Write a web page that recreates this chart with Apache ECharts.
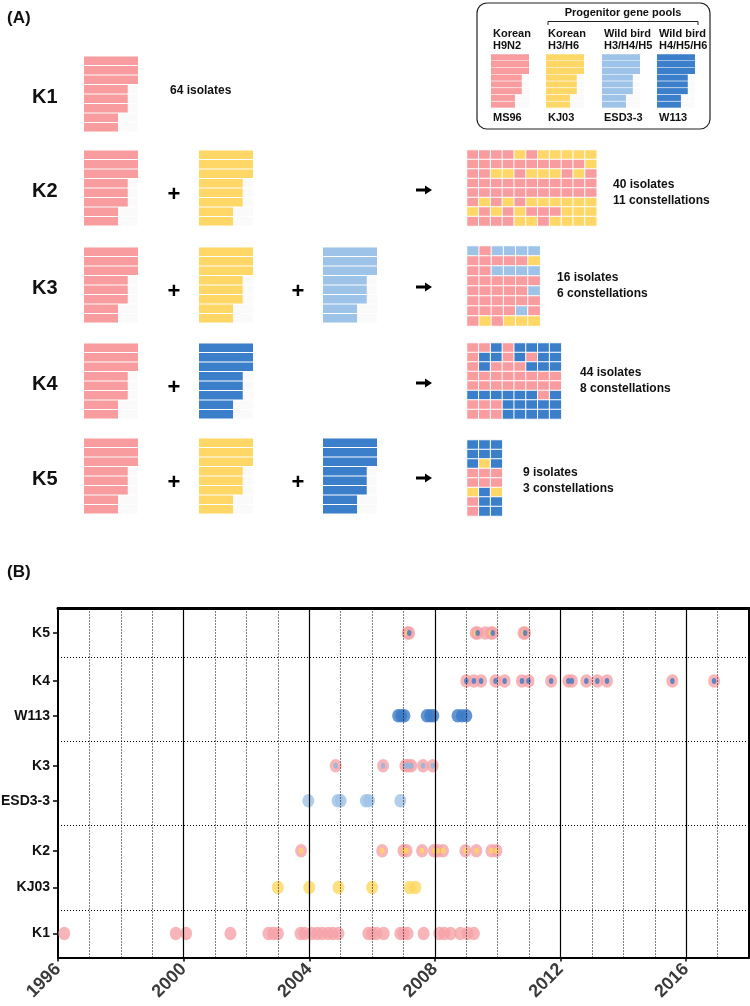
<!DOCTYPE html>
<html><head><meta charset="utf-8">
<script src="https://cdn.jsdelivr.net/npm/echarts@6/dist/echarts.min.js"></script>
<style>html,body{margin:0;padding:0;background:#fff}#c{width:750px;height:1006px}</style>
</head><body><div id="c"></div>
<script>
// ================= DATA =================
// gene segments and relative segment lengths (3 levels as drawn)
const segmentNames = ['PB2','PB1','PA','HA','NP','NA','M','NS'];
const segmentLengths = [100,100,100,81,81,81,63,63];
// progenitor pools (legend)
const poolKeys = ['P','Y','L','D'];
const poolNames = ['MS96','KJ03','ESD3-3','W113'];
const poolHeaders = [['Korean','H9N2'],['Korean','H3/H6'],['Wild bird','H3/H4/H5'],['Wild bird','H4/H5/H6']];
// genotypes
const genotypes = ['K1','K2','K3','K4','K5'];
const genotypePools = [['P'],['P','Y'],['P','Y','L'],['P','D'],['P','Y','D']];
const isolateCounts = [64,40,16,44,9];
const constellationCounts = [null,11,6,8,3];
// constellation grids (rows = segments, cols = constellations)
const k2Grid = ['PPPPYPYYYYY','PPPPPPPPPPY','PPYYPYYYPYP','PPPPPPPPPPP','PPPPPPPPPPP','PYPYPYYYYYY','YPYPYPPPYYY','PPPPYYPYYYY'];
const k3Grid = ['LPLLLL','PPPPPY','PPLLLL','PPPPPP','PPPPPL','PPPPPP','PPPPLP','PYPYYY'];
const k4Grid = ['PPDPDDDD','PDDPDPDD','PDPPPDDD','PPPPPPPP','PPPPPPPP','DDDDDDPD','PPPDDDDD','PPPDDDDD'];
const k5Grid = ['DDD','DDD','DYD','PPP','PPP','YDY','PDD','PDD'];
// panel B: isolation dates (decimal years)
const rowNamesB = ['K1','KJ03','K2','ESD3-3','K3','W113','K4','K5'];
const k1Dates = [1996.2,1999.75,2000.08,2001.49,2002.7,2002.85,2003.0,2003.72,2003.85,2004.07,2004.25,2004.41,2004.6,2004.75,2004.93,2005.88,2006.0,2006.14,2006.37,2006.9,2007.0,2007.13,2007.64,2008.14,2008.3,2008.5,2008.81,2009.04,2009.24];
const kj03Dates = [2003.0,2004.0,2004.93,2006.0,2007.2,2007.38];
const k2Dates = [2003.74,2006.32,2007.0,2007.1,2007.59,2007.97,2008.09,2008.26,2008.97,2009.32,2009.8,2009.96];
const esdDates = [2003.97,2004.9,2005.0,2005.8,2005.9,2006.9];
const k3Dates = [2004.84,2006.35,2007.06,2007.15,2007.25,2007.62,2007.93];
const w113Dates = [2006.83,2006.93,2007.03,2007.74,2007.85,2007.95,2008.72,2008.86,2009.0];
const k4Dates = [2009.0,2009.24,2009.47,2009.93,2010.22,2010.77,2010.98,2011.7,2012.25,2012.36,2012.82,2013.17,2013.48,2015.56,2016.89];
const k5Dates = [2007.13,2007.18,2009.3,2009.36,2009.6,2009.78,2009.84,2010.82,2010.87];
const k5Inner = ['Y','D','Y','D','','Y','D','Y','D'];
const yearLabels = [1996,2000,2004,2008,2012,2016];
const yearGrid = [1997,1998,1999,2001,2002,2003,2005,2006,2007,2009,2010,2011,2013,2014,2015,2017];

// ================= STYLE / LAYOUT =================
const C = {P:'#F99CA0', Y:'#FFD766', L:'#9EC3E8', D:'#3B7FCB'};
const CB = {P:'#F5A2A7', Y:'#FFD75E', L:'#9DC2E6', D:'#3C7BC8'};
const FONT = '"Liberation Sans", Arial, sans-serif';
const rowTop = [56,150,247,343,438];
const stackLeft = [84,199,323];
const stackW = 54, stackH = 76;
const heatLeft = 467, heatTop = [150,246,343,440], heatCell = [11.8,12.2,11.8,11.8], heatRowH = [9.5,10,9.5,9.5];
const countTextPos = [[170,91],[613,185],[557,278],[580,373],[523,473]];
const rowPosB = [24,70,107,157,192,242,277,325];
const dividerPosB = [47,132,217,301];

const grids = [], xAxes = [], yAxes = [], series = [], heatIdx = [], graphics = [];
const noAnim = {animation:false, silent:true};

function addStack(left, top, w, h, key){
  const gi = grids.length;
  grids.push({left, top, width:w, height:h, containLabel:false, outerBoundsMode:'none'});
  xAxes.push({gridIndex:gi, type:'value', min:0, max:100, show:false});
  yAxes.push({gridIndex:gi, type:'category', data:segmentNames, inverse:true, show:false});
  series.push(Object.assign({type:'bar', xAxisIndex:gi, yAxisIndex:gi, data:segmentLengths,
    barCategoryGap:'10%', itemStyle:{color:C[key]},
    showBackground:true, backgroundStyle:{color:'rgba(0,0,0,0.018)'}}, noAnim));
}
function addHeat(left, top, cw, ch, rows){
  const nc = rows[0].length, nr = rows.length, gi = grids.length;
  grids.push({left, top, width:cw*nc, height:ch*nr, containLabel:false, outerBoundsMode:'none'});
  xAxes.push({gridIndex:gi, type:'category', data:[...Array(nc).keys()].map(String), show:false});
  yAxes.push({gridIndex:gi, type:'category', data:segmentNames, inverse:true, show:false});
  const data = [];
  rows.forEach((r,ri)=>[...r].forEach((ch2,ci)=>data.push([ci, ri, poolKeys.indexOf(ch2)])));
  heatIdx.push(series.length);
  series.push(Object.assign({type:'heatmap', xAxisIndex:gi, yAxisIndex:gi, data,
    itemStyle:{borderColor:'#fff', borderWidth:1}}, noAnim));
}
function txt(x, y, text, size, opts){
  graphics.push(Object.assign({type:'text', x, y, silent:true,
    style:{text, fill:'#111', font:'bold '+size+'px '+FONT, align:'left', verticalAlign:'middle'}}, opts||{}));
}
function arrow(cx, cy){
  graphics.push({type:'polygon', silent:true, shape:{points:[[cx-8,cy-1.5],[cx+1,cy-1.5],[cx+1,cy-4.5],[cx+8,cy],[cx+1,cy+4.5],[cx+1,cy+1.5],[cx-8,cy+1.5]]}, style:{fill:'#000'}});
}

// ---- Panel A ----
txt(7, 18, '(A)', 17);
genotypes.forEach((g, i) => {
  const top = rowTop[i];
  txt(32, top + 41, g, 20);
  genotypePools[i].forEach((k, j) => {
    addStack(stackLeft[j], top, stackW, stackH, k);
    if (j > 0) txt(stackLeft[j] - 25, top + 45, '+', 22, {style:{text:'+', fill:'#000', font:'bold 22px '+FONT, align:'center', verticalAlign:'middle'}});
  });
  const [tx, ty] = countTextPos[i];
  txt(tx, ty, isolateCounts[i] + ' isolates', 12);
  if (constellationCounts[i] !== null) {
    txt(tx, ty + 16, constellationCounts[i] + ' constellations', 12);
    arrow(424, top + 40);
  }
});
[k2Grid, k3Grid, k4Grid, k5Grid].forEach((gr, i) => addHeat(heatLeft, heatTop[i], heatCell[i], heatRowH[i], gr));

// legend box
graphics.push({type:'rect', silent:true, shape:{x:477, y:3, width:233, height:126, r:10}, style:{fill:'none', stroke:'#222', lineWidth:1.2}});
graphics.push({type:'polyline', silent:true, shape:{points:[[548,25],[548,21.5],[698,21.5],[698,25]]}, style:{stroke:'#222', lineWidth:1, fill:'none'}});
txt(623, 13, 'Progenitor gene pools', 11, {style:{text:'Progenitor gene pools', fill:'#111', font:'bold 11px '+FONT, align:'center', verticalAlign:'middle'}});
const legLeft = [493,548,604,659];
poolKeys.forEach((k, i) => {
  txt(legLeft[i], 34, poolHeaders[i][0], 11);
  txt(legLeft[i], 46, poolHeaders[i][1], 11);
  addStack(legLeft[i] - 2, 54, 38, 54, k);
  txt(legLeft[i], 118, poolNames[i], 11);
});

// ---- Panel B ----
txt(7, 572, '(B)', 17);
const gB = grids.length;
grids.push({left:58, top:608, right:1, height:349.5, containLabel:false, outerBoundsMode:'none'});
xAxes.push({gridIndex:gB, type:'value', min:1996, max:2018, interval:1,
  axisLine:{show:true, lineStyle:{color:'#000', width:2}},
  axisTick:{show:true, customValues:yearLabels, length:4, lineStyle:{color:'#000', width:1.5}},
  axisLabel:{rotate:45, margin:9, color:'#3a3a3a', fontWeight:'bold', fontSize:18, fontFamily:FONT,
    formatter: v => (yearLabels.includes(v) ? String(v) : '')},
  splitLine:{show:false}});
xAxes.push({gridIndex:gB, type:'value', min:1996, max:2018, position:'top',
  axisLine:{show:true, onZero:false, lineStyle:{color:'#000', width:3}}, axisTick:{show:false}, axisLabel:{show:false}, splitLine:{show:false}});
const labelFor = v => { const i = rowPosB.findIndex(p => Math.abs(p - v) < 0.01); return i >= 0 ? rowNamesB[i] : ''; };
yAxes.push({gridIndex:gB, type:'value', min:0, max:350,
  axisLine:{show:true, lineStyle:{color:'#000', width:2}},
  axisTick:{show:true, customValues:rowPosB, length:5, lineStyle:{color:'#000', width:1.5}},
  axisLabel:{customValues:rowPosB, formatter:labelFor, color:'#111', fontWeight:'bold', fontSize:14, fontFamily:FONT, margin:8},
  splitLine:{show:false}});
yAxes.push({gridIndex:gB, type:'value', min:0, max:350, position:'right',
  axisLine:{show:true, onZero:false, lineStyle:{color:'#000', width:2}}, axisTick:{show:false}, axisLabel:{show:false}, splitLine:{show:false}});
const xB = xAxes.length - 2, yB = yAxes.length - 2;

// reference lines (dotted yearly lines, solid 4-year lines, dotted row dividers)
const dotted = [1, 2];
series.push(Object.assign({type:'line', xAxisIndex:xB, yAxisIndex:yB, data:[], z:1,
  markLine:{symbol:['none','none'], silent:true, animation:false, label:{show:false},
    data: yearGrid.map(v => ({xAxis:v, lineStyle:{color:'#000', width:1, type:dotted}}))
      .concat(yearLabels.filter(v=>v>1996).map(v => ({xAxis:v, lineStyle:{color:'#000', width:1.2, type:'solid'}})))
      .concat(dividerPosB.map(v => ({yAxis:v, lineStyle:{color:'#000', width:1, type:dotted}})))}}, noAnim));

function dots(dates, rowName, color, size, z){
  const y = rowPosB[rowNamesB.indexOf(rowName)];
  series.push(Object.assign({type:'scatter', xAxisIndex:xB, yAxisIndex:yB, z,
    symbol:'circle', symbolSize:size, itemStyle:{color},
    data: dates.map(d => [d, y])}, noAnim));
}
const OUT = [12,13.5], IN = [4.5,6];
dots(k1Dates, 'K1', CB.P, OUT, 3);
dots(kj03Dates, 'KJ03', CB.Y, OUT, 3);
dots(esdDates, 'ESD3-3', CB.L, OUT, 3);
dots(w113Dates, 'W113', CB.D, OUT, 3);
dots(k2Dates, 'K2', CB.P, OUT, 3);
dots(k3Dates, 'K3', CB.P, OUT, 3);
dots(k4Dates, 'K4', CB.P, OUT, 3);
dots(k5Dates, 'K5', CB.P, OUT, 3);
dots(k2Dates, 'K2', CB.Y, IN, 4);
dots(k3Dates, 'K3', '#8DB5DF', IN, 4);
dots(k4Dates, 'K4', '#3E78C2', IN, 4);
dots(k5Dates.filter((d,i)=>k5Inner[i]==='Y'), 'K5', CB.Y, IN, 4);
dots(k5Dates.filter((d,i)=>k5Inner[i]==='D'), 'K5', '#3E78C2', IN, 4);

const chart = echarts.init(document.getElementById('c'), null, {renderer:'canvas'});
chart.setOption({
  animation:false,
  backgroundColor:'#fff',
  grid: grids, xAxis: xAxes, yAxis: yAxes,
  visualMap: [{type:'piecewise', show:false, dimension:2, seriesIndex:heatIdx,
    pieces: poolKeys.map((k,i)=>({value:i, color:C[k]}))}],
  series,
  graphic: {elements: graphics}
});
</script></body></html>
